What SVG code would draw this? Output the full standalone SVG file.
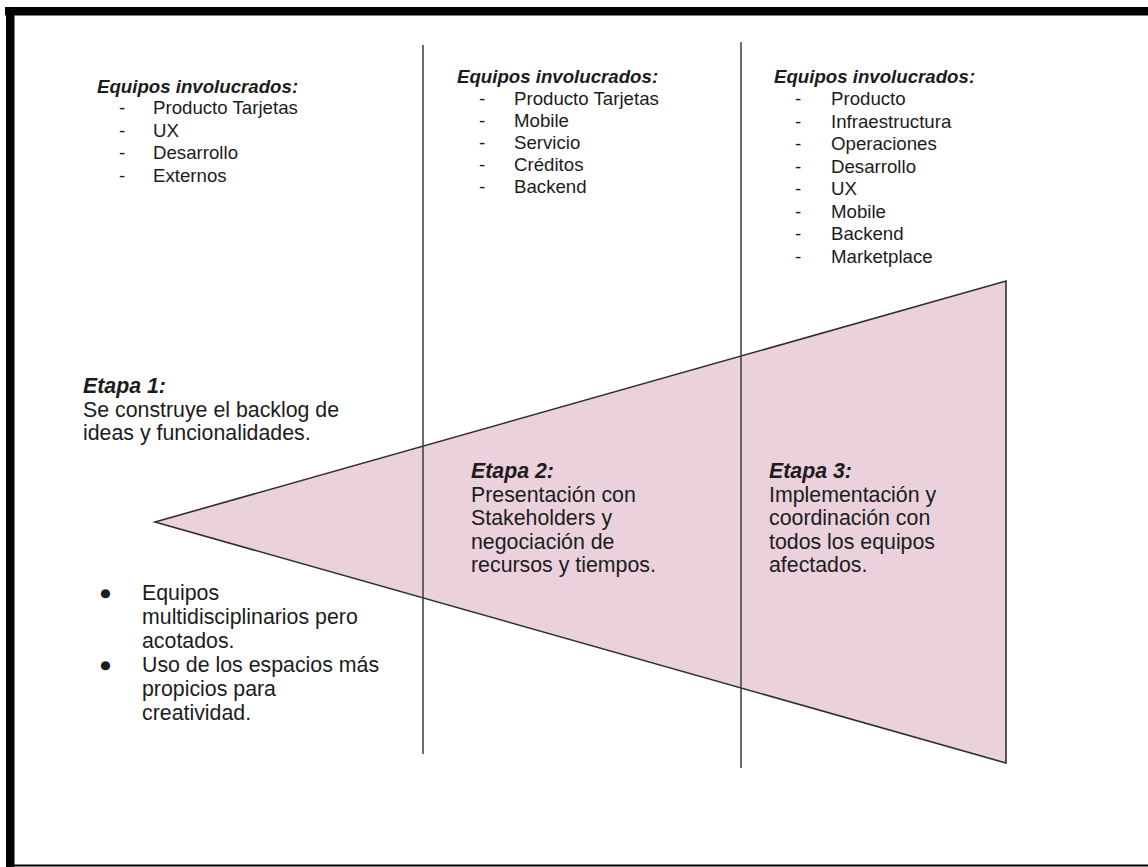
<svg xmlns="http://www.w3.org/2000/svg" width="1148" height="867" viewBox="0 0 1148 867">
  <style>
    text { font-family: "Liberation Sans", Arial, sans-serif; fill: #1c1c1c; }
    .list { font-size: 18.67px; }
    .head { font-size: 18.67px; font-weight: bold; font-style: italic; }
    .stage { font-size: 21.33px; }
    .stageHead { font-size: 21.33px; font-weight: bold; font-style: italic; }
    .divider { stroke: #3a3a3a; stroke-width: 1.5; fill: none; }
    .funnel { fill: #ead1dc; stroke: #2e2e2e; stroke-width: 1.6; stroke-linejoin: miter; }
  </style>

  <rect width="1148" height="867" fill="#ffffff"/>

  <!-- frame -->
  <g id="frame">
    <rect x="5" y="7" width="1143" height="8.5" fill="#000"/>
    <rect x="6" y="7" width="8.5" height="860" fill="#000"/>
    <rect x="6" y="864.5" width="1142" height="2" fill="#000"/>
  </g>

  <!-- funnel shape -->
  <g id="funnel">
    <polygon class="funnel" points="155,522 1006,281 1006,763"/>
  </g>

  <!-- column dividers -->
  <g id="dividers">
    <line class="divider" x1="423" y1="45" x2="423" y2="754"/>
    <line class="divider" x1="741" y1="42" x2="741" y2="768"/>
  </g>

  <!-- teams, stage 1 -->
  <g id="teams-1">
    <text class="head" x="97" y="93">Equipos involucrados:</text>
    <g class="list">
      <text x="119" y="114">-</text><text x="153" y="114">Producto Tarjetas</text>
      <text x="119" y="136.5">-</text><text x="153" y="136.5">UX</text>
      <text x="119" y="159">-</text><text x="153" y="159">Desarrollo</text>
      <text x="119" y="181.5">-</text><text x="153" y="181.5">Externos</text>
    </g>
  </g>

  <!-- teams, stage 2 -->
  <g id="teams-2">
    <text class="head" x="457" y="83">Equipos involucrados:</text>
    <g class="list">
      <text x="479" y="105">-</text><text x="514" y="105">Producto Tarjetas</text>
      <text x="479" y="127">-</text><text x="514" y="127">Mobile</text>
      <text x="479" y="149">-</text><text x="514" y="149">Servicio</text>
      <text x="479" y="171">-</text><text x="514" y="171">Créditos</text>
      <text x="479" y="193">-</text><text x="514" y="193">Backend</text>
    </g>
  </g>

  <!-- teams, stage 3 -->
  <g id="teams-3">
    <text class="head" x="774" y="83">Equipos involucrados:</text>
    <g class="list">
      <text x="795" y="105">-</text><text x="831" y="105">Producto</text>
      <text x="795" y="127.5">-</text><text x="831" y="127.5">Infraestructura</text>
      <text x="795" y="150">-</text><text x="831" y="150">Operaciones</text>
      <text x="795" y="172.5">-</text><text x="831" y="172.5">Desarrollo</text>
      <text x="795" y="195">-</text><text x="831" y="195">UX</text>
      <text x="795" y="217.5">-</text><text x="831" y="217.5">Mobile</text>
      <text x="795" y="240">-</text><text x="831" y="240">Backend</text>
      <text x="795" y="262.5">-</text><text x="831" y="262.5">Marketplace</text>
    </g>
  </g>

  <!-- stage 1 -->
  <g id="stage-1">
    <text class="stageHead" x="83" y="393">Etapa 1:</text>
    <text class="stage" x="83" y="416.5">Se construye el backlog de</text>
    <text class="stage" x="83" y="440">ideas y funcionalidades.</text>
  </g>

  <g id="stage-1-notes">
    <g class="stage">
      <text x="99" y="600">●</text>
      <text x="142" y="600">Equipos</text>
      <text x="142" y="624">multidisciplinarios pero</text>
      <text x="142" y="648">acotados.</text>
      <text x="99" y="672">●</text>
      <text x="142" y="672">Uso de los espacios más</text>
      <text x="142" y="696">propicios para</text>
      <text x="142" y="720">creatividad.</text>
    </g>
  </g>

  <!-- stage 2 -->
  <g id="stage-2">
    <text class="stageHead" x="471" y="478">Etapa 2:</text>
    <text class="stage" x="471" y="501.5">Presentación con</text>
    <text class="stage" x="471" y="525">Stakeholders y</text>
    <text class="stage" x="471" y="548.5">negociación de</text>
    <text class="stage" x="471" y="572">recursos y tiempos.</text>
  </g>

  <!-- stage 3 -->
  <g id="stage-3">
    <text class="stageHead" x="769" y="478">Etapa 3:</text>
    <text class="stage" x="769" y="501.5">Implementación y</text>
    <text class="stage" x="769" y="525">coordinación con</text>
    <text class="stage" x="769" y="548.5">todos los equipos</text>
    <text class="stage" x="769" y="572">afectados.</text>
  </g>
</svg>
